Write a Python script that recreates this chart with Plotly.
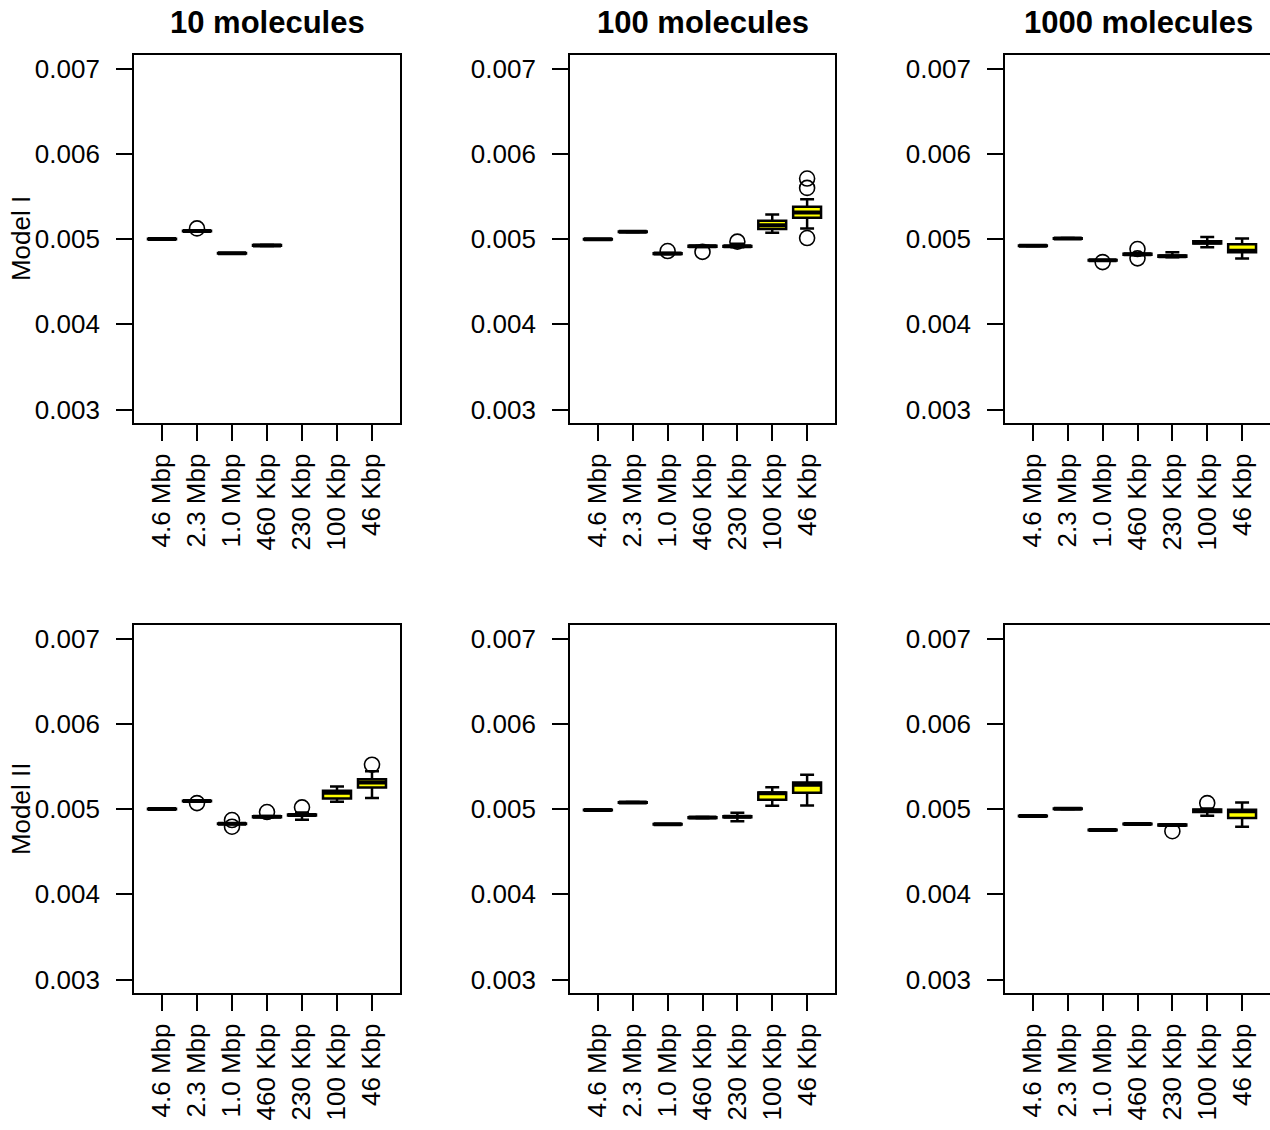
import plotly.graph_objects as go
from plotly.subplots import make_subplots

categories = ["4.6 Mbp", "2.3 Mbp", "1.0 Mbp", "460 Kbp", "230 Kbp", "100 Kbp", "46 Kbp"]
col_titles = ["10 molecules", "100 molecules", "1000 molecules"]
row_titles = ["Model I", "Model II"]
y_ticks = [0.003, 0.004, 0.005, 0.006, 0.007]

# ---- Model I, 10 molecules
m1_10_q1 = [0.004997, 0.005091, 0.004830, 0.004922, None, None, None]
m1_10_med = [0.005000, 0.005094, 0.004833, 0.004926, None, None, None]
m1_10_q3 = [0.005003, 0.005097, 0.004836, 0.004930, None, None, None]
m1_10_lo = [0.004995, 0.005089, 0.004828, 0.004920, None, None, None]
m1_10_hi = [0.005005, 0.005099, 0.004838, 0.004932, None, None, None]
m1_10_out_x = [2]
m1_10_out_y = [0.005125]

# ---- Model I, 100 molecules
m1_100_q1 = [0.004994, 0.005082, 0.004826, 0.004910, 0.004911, 0.005118, 0.005249]
m1_100_med = [0.004997, 0.005085, 0.004830, 0.004915, 0.004915, 0.005161, 0.005312]
m1_100_q3 = [0.005000, 0.005088, 0.004834, 0.004922, 0.004920, 0.005215, 0.005378]
m1_100_lo = [0.004992, 0.005080, 0.004823, 0.004906, 0.004905, 0.005073, 0.005125]
m1_100_hi = [0.005002, 0.005090, 0.004837, 0.004926, 0.004945, 0.005287, 0.005468]
m1_100_out_x = [3, 4, 5, 7, 7, 7]
m1_100_out_y = [0.004860, 0.004850, 0.004970, 0.005710, 0.005600, 0.005012]

# ---- Model I, 1000 molecules
m1_1000_q1 = [0.004919, 0.005005, 0.004748, 0.004815, 0.004793, 0.004948, 0.004844]
m1_1000_med = [0.004922, 0.005008, 0.004751, 0.004822, 0.004800, 0.004961, 0.004863]
m1_1000_q3 = [0.004925, 0.005011, 0.004754, 0.004829, 0.004807, 0.004975, 0.004938]
m1_1000_lo = [0.004917, 0.005003, 0.004746, 0.004810, 0.004788, 0.004903, 0.004772]
m1_1000_hi = [0.004927, 0.005013, 0.004756, 0.004834, 0.004844, 0.005023, 0.005008]
m1_1000_out_x = [3, 4, 4]
m1_1000_out_y = [0.004730, 0.004883, 0.004774]

# ---- Model II, 10 molecules
m2_10_q1 = [0.004997, 0.005091, 0.004824, 0.004905, 0.004925, 0.005125, 0.005254]
m2_10_med = [0.005000, 0.005094, 0.004828, 0.004910, 0.004930, 0.005191, 0.005312]
m2_10_q3 = [0.005003, 0.005097, 0.004832, 0.004915, 0.004935, 0.005214, 0.005351]
m2_10_lo = [0.004995, 0.005089, 0.004821, 0.004902, 0.004875, 0.005085, 0.005129]
m2_10_hi = [0.005005, 0.005099, 0.004835, 0.004918, 0.004960, 0.005265, 0.005444]
m2_10_out_x = [2, 3, 3, 4, 5, 7]
m2_10_out_y = [0.005070, 0.004871, 0.004793, 0.004965, 0.005020, 0.005520]

# ---- Model II, 100 molecules
m2_100_q1 = [0.004987, 0.005075, 0.004818, 0.004895, 0.004903, 0.005109, 0.005191]
m2_100_med = [0.004990, 0.005078, 0.004821, 0.004900, 0.004910, 0.005184, 0.005284]
m2_100_q3 = [0.004993, 0.005081, 0.004824, 0.004905, 0.004917, 0.005195, 0.005312]
m2_100_lo = [0.004985, 0.005073, 0.004816, 0.004892, 0.004856, 0.005039, 0.005043]
m2_100_hi = [0.004995, 0.005083, 0.004826, 0.004908, 0.004957, 0.005257, 0.005401]
m2_100_out_x = []
m2_100_out_y = []

# ---- Model II, 1000 molecules
m2_1000_q1 = [0.004915, 0.005001, 0.004751, 0.004821, 0.004806, 0.004965, 0.004895]
m2_1000_med = [0.004918, 0.005004, 0.004754, 0.004825, 0.004813, 0.004980, 0.004973]
m2_1000_q3 = [0.004921, 0.005007, 0.004757, 0.004829, 0.004818, 0.004995, 0.004992]
m2_1000_lo = [0.004913, 0.004999, 0.004749, 0.004818, 0.004803, 0.004922, 0.004793]
m2_1000_hi = [0.004923, 0.005009, 0.004759, 0.004832, 0.004822, 0.005008, 0.005078]
m2_1000_out_x = [5, 6]
m2_1000_out_y = [0.004740, 0.005070]

panels = [
    (1, 1, m1_10_q1, m1_10_med, m1_10_q3, m1_10_lo, m1_10_hi, m1_10_out_x, m1_10_out_y),
    (1, 2, m1_100_q1, m1_100_med, m1_100_q3, m1_100_lo, m1_100_hi, m1_100_out_x, m1_100_out_y),
    (1, 3, m1_1000_q1, m1_1000_med, m1_1000_q3, m1_1000_lo, m1_1000_hi, m1_1000_out_x, m1_1000_out_y),
    (2, 1, m2_10_q1, m2_10_med, m2_10_q3, m2_10_lo, m2_10_hi, m2_10_out_x, m2_10_out_y),
    (2, 2, m2_100_q1, m2_100_med, m2_100_q3, m2_100_lo, m2_100_hi, m2_100_out_x, m2_100_out_y),
    (2, 3, m2_1000_q1, m2_1000_med, m2_1000_q3, m2_1000_lo, m2_1000_hi, m2_1000_out_x, m2_1000_out_y),
]

W, H = 1270, 1130
FONT = "Liberation Sans, Arial, sans-serif"
BOXW = 0.8

fig = make_subplots(rows=2, cols=3)

for r, c, q1, med, q3, lo, hi, ox, oy in panels:
    idx = [i for i in range(len(categories)) if med[i] is not None]
    xs = [i + 1 for i in idx]
    fig.add_trace(go.Box(
        x=xs,
        q1=[q1[i] for i in idx], median=[med[i] for i in idx], q3=[q3[i] for i in idx],
        lowerfence=[lo[i] for i in idx], upperfence=[hi[i] for i in idx],
        width=BOXW, whiskerwidth=0.5, fillcolor="#FFFF00",
        line=dict(color="black", width=2.5), boxpoints=False,
        hoverinfo="skip", showlegend=False,
    ), row=r, col=c)
    mx, my = [], []
    for i in idx:
        mx += [i + 1 - BOXW / 2, i + 1 + BOXW / 2, None]
        my += [med[i], med[i], None]
    fig.add_trace(go.Scatter(x=mx, y=my, mode="lines", line=dict(color="black", width=4),
                             hoverinfo="skip", showlegend=False), row=r, col=c)
    if ox:
        fig.add_trace(go.Scatter(x=ox, y=oy, mode="markers",
                                 marker=dict(symbol="circle-open", size=15, color="black",
                                             line=dict(width=1.6, color="black")),
                                 hoverinfo="skip", showlegend=False), row=r, col=c)

x_doms = [(134 / W, 400 / W), (570 / W, 835 / W), (1005 / W, 1.0)]
y_doms = [(1 - 423 / H, 1 - 54 / H), (1 - 994 / H, 1 - 625 / H)]

for r in (1, 2):
    for c in (1, 2, 3):
        fig.update_xaxes(
            domain=x_doms[c - 1], range=[0.2, 7.8],
            tickvals=list(range(1, 8)), ticktext=categories, tickangle=-90,
            ticks="outside", ticklen=16, tickwidth=1.5, tickcolor="black",
            showline=True, mirror=True, linecolor="black", linewidth=1.8,
            showgrid=False, zeroline=False, ticklabelstandoff=2,
            tickfont=dict(family=FONT, size=26, color="black"),
            row=r, col=c)
        fig.update_yaxes(
            domain=y_doms[r - 1], range=[0.00284, 0.00716],
            tickvals=y_ticks, tickformat=".3f",
            ticks="outside", ticklen=16, tickwidth=1.5, tickcolor="black",
            showline=True, mirror=(c != 3), linecolor="black", linewidth=1.8,
            showgrid=False, zeroline=False, ticklabelstandoff=11,
            tickfont=dict(family=FONT, size=26, color="black"),
            row=r, col=c)

annotations = []
for c, t in enumerate(col_titles):
    xc = (x_doms[c][0] + x_doms[c][0] + 266 / W) / 2
    annotations.append(dict(text="<b>" + t + "</b>", x=xc, y=1 - 22 / H, xref="paper", yref="paper",
                            xanchor="center", yanchor="middle", showarrow=False,
                            font=dict(family=FONT, size=31, color="black")))
for r, t in enumerate(row_titles):
    yc = (y_doms[r][0] + y_doms[r][1]) / 2
    annotations.append(dict(text=t, x=21 / W, y=yc, xref="paper", yref="paper",
                            xanchor="center", yanchor="middle", showarrow=False, textangle=-90,
                            font=dict(family=FONT, size=26, color="black")))

fig.update_layout(
    width=W, height=H, margin=dict(l=0, r=0, t=0, b=0),
    paper_bgcolor="white", plot_bgcolor="white",
    annotations=annotations, showlegend=False,
)

fig.write_html("out.html")
